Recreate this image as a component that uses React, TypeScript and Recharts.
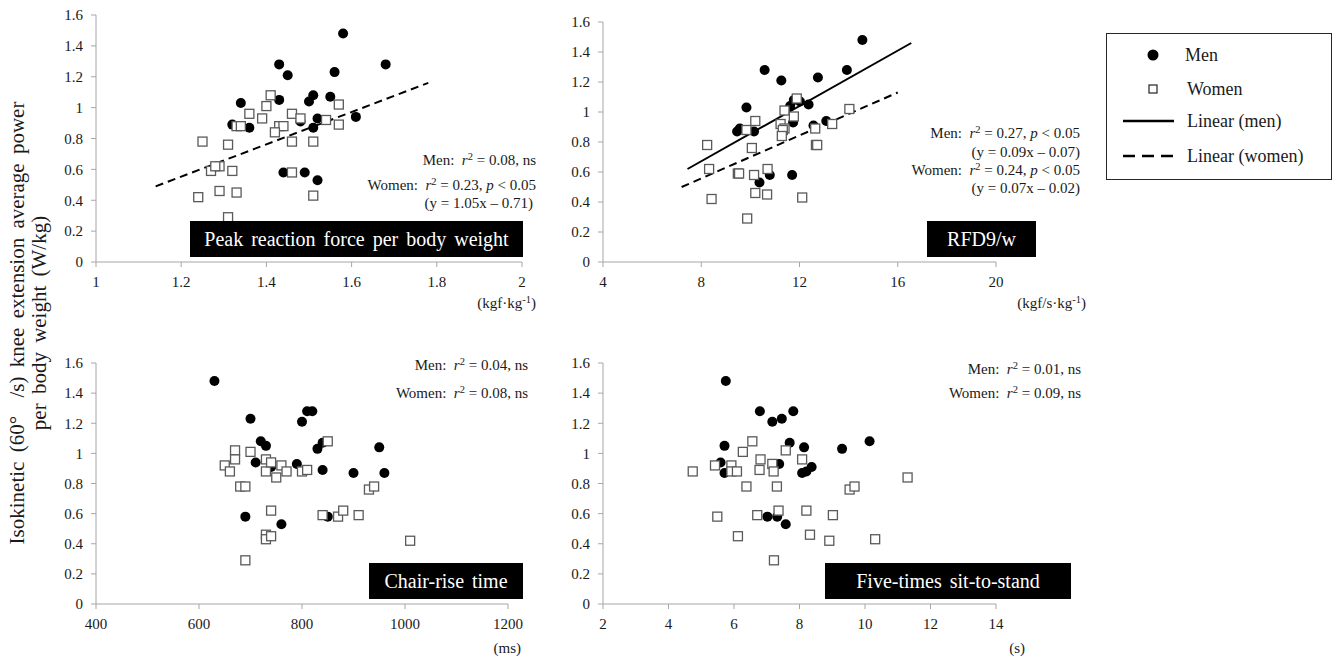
import React from 'react';
import { ScatterChart, Scatter, XAxis, YAxis, ReferenceLine } from 'recharts';

type Pt = { x: number; y: number };

// ---------- data ----------
const powerTicks = [0, 0.2, 0.4, 0.6, 0.8, 1, 1.2, 1.4, 1.6];

// Panel 1: peak reaction force per body weight (kgf/kg)
const peakTicks = [1, 1.2, 1.4, 1.6, 1.8, 2];
const peakMen: Pt[] = [
  { x: 1.58, y: 1.48 }, { x: 1.43, y: 1.28 }, { x: 1.68, y: 1.28 }, { x: 1.45, y: 1.21 },
  { x: 1.56, y: 1.23 }, { x: 1.34, y: 1.03 }, { x: 1.43, y: 1.05 }, { x: 1.51, y: 1.08 },
  { x: 1.5, y: 1.04 }, { x: 1.55, y: 1.07 }, { x: 1.32, y: 0.89 }, { x: 1.36, y: 0.87 },
  { x: 1.48, y: 0.91 }, { x: 1.52, y: 0.93 }, { x: 1.51, y: 0.87 }, { x: 1.61, y: 0.94 },
  { x: 1.44, y: 0.58 }, { x: 1.49, y: 0.58 }, { x: 1.52, y: 0.53 },
];
const peakWomen: Pt[] = [
  { x: 1.41, y: 1.08 }, { x: 1.4, y: 1.01 }, { x: 1.36, y: 0.96 }, { x: 1.39, y: 0.93 },
  { x: 1.46, y: 0.96 }, { x: 1.57, y: 1.02 }, { x: 1.48, y: 0.93 }, { x: 1.54, y: 0.92 },
  { x: 1.57, y: 0.89 }, { x: 1.33, y: 0.88 }, { x: 1.34, y: 0.88 }, { x: 1.43, y: 0.88 },
  { x: 1.44, y: 0.88 }, { x: 1.42, y: 0.84 }, { x: 1.25, y: 0.78 }, { x: 1.31, y: 0.76 },
  { x: 1.46, y: 0.78 }, { x: 1.51, y: 0.78 }, { x: 1.27, y: 0.59 }, { x: 1.29, y: 0.62 },
  { x: 1.28, y: 0.62 }, { x: 1.32, y: 0.59 }, { x: 1.46, y: 0.58 }, { x: 1.24, y: 0.42 },
  { x: 1.29, y: 0.46 }, { x: 1.33, y: 0.45 }, { x: 1.51, y: 0.43 }, { x: 1.31, y: 0.29 },
];
const peakWomenFit: Pt[] = [{ x: 1.14, y: 0.49 }, { x: 1.78, y: 1.16 }];

// Panel 2: RFD9/w (kgf/s/kg)
const rfdTicks = [4, 8, 12, 16, 20];
const rfdMen: Pt[] = [
  { x: 14.56, y: 1.48 }, { x: 10.58, y: 1.28 }, { x: 13.93, y: 1.28 }, { x: 11.26, y: 1.21 },
  { x: 12.75, y: 1.23 }, { x: 9.84, y: 1.03 }, { x: 11.77, y: 1.08 }, { x: 12.02, y: 1.07 },
  { x: 11.62, y: 1.04 }, { x: 12.37, y: 1.05 }, { x: 9.46, y: 0.87 }, { x: 9.57, y: 0.89 },
  { x: 10.15, y: 0.87 }, { x: 11.74, y: 0.93 }, { x: 12.57, y: 0.91 }, { x: 13.09, y: 0.94 },
  { x: 10.79, y: 0.58 }, { x: 11.7, y: 0.58 }, { x: 10.37, y: 0.53 },
];
const rfdWomen: Pt[] = [
  { x: 8.24, y: 0.78 }, { x: 8.32, y: 0.62 }, { x: 8.42, y: 0.42 }, { x: 9.49, y: 0.59 },
  { x: 9.54, y: 0.59 }, { x: 9.87, y: 0.29 }, { x: 10.06, y: 0.76 }, { x: 10.15, y: 0.58 },
  { x: 10.2, y: 0.94 }, { x: 10.2, y: 0.46 }, { x: 9.84, y: 0.88 }, { x: 10.7, y: 0.62 },
  { x: 10.68, y: 0.45 }, { x: 11.39, y: 1.01 }, { x: 11.23, y: 0.92 }, { x: 11.39, y: 0.89 },
  { x: 11.32, y: 0.88 }, { x: 11.28, y: 0.84 }, { x: 11.77, y: 0.97 }, { x: 11.89, y: 1.09 },
  { x: 12.11, y: 0.43 }, { x: 12.64, y: 0.89 }, { x: 12.67, y: 0.78 }, { x: 12.72, y: 0.78 },
  { x: 13.33, y: 0.92 }, { x: 14.03, y: 1.02 },
];
const rfdMenFit: Pt[] = [{ x: 7.44, y: 0.62 }, { x: 16.55, y: 1.46 }];
const rfdWomenFit: Pt[] = [{ x: 7.2, y: 0.5 }, { x: 16.0, y: 1.13 }];

// Panel 3: chair-rise time (ms)
const chairTicks = [400, 600, 800, 1000, 1200];
const chairMen: Pt[] = [
  { x: 630, y: 1.48 }, { x: 700, y: 1.23 }, { x: 800, y: 1.21 }, { x: 810, y: 1.28 },
  { x: 820, y: 1.28 }, { x: 720, y: 1.08 }, { x: 730, y: 1.05 }, { x: 830, y: 1.03 },
  { x: 840, y: 1.07 }, { x: 950, y: 1.04 }, { x: 710, y: 0.94 }, { x: 740, y: 0.91 },
  { x: 790, y: 0.93 }, { x: 840, y: 0.89 }, { x: 900, y: 0.87 }, { x: 960, y: 0.87 },
  { x: 690, y: 0.58 }, { x: 760, y: 0.53 }, { x: 850, y: 0.58 },
];
const chairWomen: Pt[] = [
  { x: 650, y: 0.92 }, { x: 660, y: 0.88 }, { x: 670, y: 1.02 }, { x: 670, y: 0.96 },
  { x: 680, y: 0.78 }, { x: 690, y: 0.78 }, { x: 700, y: 1.01 }, { x: 690, y: 0.29 },
  { x: 730, y: 0.96 }, { x: 730, y: 0.88 }, { x: 740, y: 0.94 }, { x: 750, y: 0.84 },
  { x: 760, y: 0.92 }, { x: 770, y: 0.88 }, { x: 740, y: 0.62 }, { x: 730, y: 0.46 },
  { x: 730, y: 0.43 }, { x: 740, y: 0.45 }, { x: 800, y: 0.88 }, { x: 810, y: 0.89 },
  { x: 850, y: 1.08 }, { x: 840, y: 0.59 }, { x: 870, y: 0.58 }, { x: 880, y: 0.62 },
  { x: 910, y: 0.59 }, { x: 930, y: 0.76 }, { x: 940, y: 0.78 }, { x: 1010, y: 0.42 },
];

// Panel 4: five-times sit-to-stand (s)
const fiveTicks = [2, 4, 6, 8, 10, 12, 14];
const fiveMen: Pt[] = [
  { x: 5.75, y: 1.48 }, { x: 6.79, y: 1.28 }, { x: 7.81, y: 1.28 }, { x: 7.17, y: 1.21 },
  { x: 7.46, y: 1.23 }, { x: 5.71, y: 1.05 }, { x: 7.7, y: 1.07 }, { x: 8.14, y: 1.04 },
  { x: 9.3, y: 1.03 }, { x: 10.14, y: 1.08 }, { x: 5.59, y: 0.94 }, { x: 5.71, y: 0.87 },
  { x: 7.38, y: 0.93 }, { x: 8.08, y: 0.87 }, { x: 8.21, y: 0.88 }, { x: 8.37, y: 0.91 },
  { x: 7.02, y: 0.58 }, { x: 7.32, y: 0.58 }, { x: 7.58, y: 0.53 },
];
const fiveWomen: Pt[] = [
  { x: 4.74, y: 0.88 }, { x: 5.42, y: 0.92 }, { x: 5.92, y: 0.92 }, { x: 5.92, y: 0.88 },
  { x: 6.09, y: 0.88 }, { x: 5.49, y: 0.58 }, { x: 6.12, y: 0.45 }, { x: 6.27, y: 1.01 },
  { x: 6.56, y: 1.08 }, { x: 6.38, y: 0.78 }, { x: 6.81, y: 0.96 }, { x: 6.78, y: 0.89 },
  { x: 6.71, y: 0.59 }, { x: 7.17, y: 0.93 }, { x: 7.21, y: 0.88 }, { x: 7.31, y: 0.78 },
  { x: 7.36, y: 0.62 }, { x: 7.22, y: 0.29 }, { x: 7.58, y: 1.02 }, { x: 8.08, y: 0.96 },
  { x: 8.21, y: 0.62 }, { x: 8.32, y: 0.46 }, { x: 8.91, y: 0.42 }, { x: 9.02, y: 0.59 },
  { x: 9.53, y: 0.76 }, { x: 9.68, y: 0.78 }, { x: 10.31, y: 0.43 }, { x: 11.3, y: 0.84 },
];

// ---------- styles ----------
const SERIF = '"Liberation Serif", "Times New Roman", serif';
const AXIS_GRAY = '#a6a6a6';
const TEXT = '#1a1a1a';

const MenDot = (p: any) => <circle cx={p.cx} cy={p.cy} r={5} fill="#000" />;
const WomenSq = (p: any) => (
  <rect x={p.cx - 4.5} y={p.cy - 4.5} width={9} height={9} fill="#fff" stroke="#5a5a5a" strokeWidth={1.3} />
);

type Fit = { seg: Pt[]; dash?: string };

function Panel(props: {
  L: number; T: number; R: number; B: number;
  men: Pt[]; women: Pt[]; xTicks: number[]; fits: Fit[];
}) {
  const { L, T, R, B, men, women, xTicks, fits } = props;
  const w = R - L + 90;
  const h = B - T + 50;
  const tickStyle = { fill: TEXT, fontSize: 15, fontFamily: SERIF };
  return (
    <div style={{ position: 'absolute', left: L - 60, top: T - 10 }}>
      <ScatterChart width={w} height={h} margin={{ top: 10, right: 30, bottom: 0, left: 0 }}>
        <XAxis
          type="number" dataKey="x" domain={[xTicks[0], xTicks[xTicks.length - 1]]}
          ticks={xTicks} interval={0} height={40} tickSize={5} tickMargin={9}
          axisLine={{ stroke: AXIS_GRAY }} tickLine={{ stroke: AXIS_GRAY }} tick={tickStyle}
          allowDataOverflow
        />
        <YAxis
          type="number" dataKey="y" domain={[0, 1.6]} ticks={powerTicks} interval={0}
          width={60} tickSize={5} tickMargin={8}
          axisLine={{ stroke: AXIS_GRAY }} tickLine={{ stroke: AXIS_GRAY }} tick={tickStyle}
          allowDataOverflow
        />
        <Scatter data={men} shape={MenDot} isAnimationActive={false} />
        <Scatter data={women} shape={WomenSq} isAnimationActive={false} />
        {fits.map((f, i) => (
          <ReferenceLine
            key={i}
            segment={[{ x: f.seg[0].x, y: f.seg[0].y }, { x: f.seg[1].x, y: f.seg[1].y }]}
            stroke="#000" strokeWidth={2} strokeDasharray={f.dash} ifOverflow="visible"
          />
        ))}
      </ScatterChart>
    </div>
  );
}

const supStyle: React.CSSProperties = { fontSize: '0.7em', verticalAlign: '0.45em', lineHeight: 0 };
const R2 = () => (
  <>
    <i>r</i>
    <sup style={supStyle}>2</sup>
  </>
);
const P = () => <i>p</i>;

function Note(props: { right: number; y: number; children: React.ReactNode }) {
  return (
    <div
      style={{
        position: 'absolute', right: 1333 - props.right, top: props.y - 9,
        fontSize: 15, lineHeight: '18px', whiteSpace: 'pre', fontFamily: SERIF, color: TEXT,
      }}
    >
      {props.children}
    </div>
  );
}

function Tag(props: { left: number; right: number; top: number; text: string }) {
  return (
    <div
      style={{
        position: 'absolute', left: props.left, top: props.top, width: props.right - props.left,
        height: 36, background: '#000', color: '#fff', fontFamily: SERIF, fontSize: 20,
        lineHeight: '36px', textAlign: 'center', whiteSpace: 'pre', wordSpacing: 3,
      }}
    >
      {props.text}
    </div>
  );
}

function Legend() {
  return (
    <svg style={{ position: 'absolute', left: 1106, top: 33 }} width={226} height={147}>
      <rect x={0.5} y={0.5} width={225} height={146} fill="#fff" stroke="#262626" strokeWidth={1} />
      <circle cx={47} cy={22} r={5.5} fill="#000" />
      <rect x={43} y={52} width={8} height={8} fill="#fff" stroke="#333" strokeWidth={1.3} />
      <line x1={17} x2={68} y1={88} y2={88} stroke="#000" strokeWidth={2.5} />
      <line x1={17} x2={68} y1={123} y2={123} stroke="#000" strokeWidth={2.5} strokeDasharray="12 7" />
      <g style={{ fontFamily: SERIF, fontSize: 18 }} fill={TEXT} dominantBaseline="central">
        <text x={79} y={22}>Men</text>
        <text x={81} y={56}>Women</text>
        <text x={81} y={88}>Linear (men)</text>
        <text x={81} y={123}>Linear (women)</text>
      </g>
    </svg>
  );
}

export default function App() {
  return (
    <div style={{ position: 'absolute', left: 0, top: 0, width: 1333, height: 659, background: '#fff', fontFamily: SERIF }}>
      <style>{`.recharts-cartesian-axis-tick-value, .recharts-text { font-family: "Liberation Serif", "Times New Roman", serif !important; }`}</style>
      <svg style={{ position: 'absolute', left: 0, top: 0 }} width={60} height={659}>
        <g style={{ fontFamily: SERIF, fontSize: 21, wordSpacing: 4 }} fill={TEXT} textAnchor="middle">
          <text transform="translate(17,323) rotate(-90)" dominantBaseline="central" xmlSpace="preserve">
            Isokinetic (60°  /s) knee extension average power
          </text>
          <text transform="translate(39,323) rotate(-90)" dominantBaseline="central">
            per body weight (W/kg)
          </text>
        </g>
      </svg>

      <Panel L={96} T={15} R={522} B={262} men={peakMen} women={peakWomen} xTicks={peakTicks}
        fits={[{ seg: peakWomenFit, dash: '8 5' }]} />
      <Panel L={603} T={22} R={996} B={262} men={rfdMen} women={rfdWomen} xTicks={rfdTicks}
        fits={[{ seg: rfdMenFit }, { seg: rfdWomenFit, dash: '8 5' }]} />
      <Panel L={96} T={363} R={508} B={604} men={chairMen} women={chairWomen} xTicks={chairTicks} fits={[]} />
      <Panel L={603} T={363} R={996} B={604} men={fiveMen} women={fiveWomen} xTicks={fiveTicks} fits={[]} />

      <Tag left={190} right={523} top={221} text="Peak reaction force per body weight" />
      <Tag left={927} right={1036} top={221} text="RFD9/w" />
      <Tag left={369} right={523} top={563} text="Chair-rise time" />
      <Tag left={825} right={1071} top={563} text="Five-times sit-to-stand" />

      <Note right={536} y={160}>Men:  <R2 /> = 0.08, ns</Note>
      <Note right={536} y={185}>Women:  <R2 /> = 0.23, <P /> {'<'} 0.05</Note>
      <Note right={533} y={203}>(y = 1.05x – 0.71)</Note>

      <Note right={1080} y={133}>Men:  <R2 /> = 0.27, <P /> {'<'} 0.05</Note>
      <Note right={1080} y={152}>(y = 0.09x – 0.07)</Note>
      <Note right={1080} y={170}>Women:  <R2 /> = 0.24, <P /> {'<'} 0.05</Note>
      <Note right={1080} y={188}>(y = 0.07x – 0.02)</Note>

      <Note right={528} y={365}>Men:  <R2 /> = 0.04, ns</Note>
      <Note right={528} y={393}>Women:  <R2 /> = 0.08, ns</Note>

      <Note right={1081} y={369}>Men:  <R2 /> = 0.01, ns</Note>
      <Note right={1081} y={393}>Women:  <R2 /> = 0.09, ns</Note>

      <Note right={536} y={303}>(kgf·kg<sup style={supStyle}>-1</sup>)</Note>
      <Note right={1086} y={303}>(kgf/s·kg<sup style={supStyle}>-1</sup>)</Note>
      <Note right={521} y={648}>(ms)</Note>
      <Note right={1025} y={648}>(s)</Note>

      <Legend />
    </div>
  );
}
